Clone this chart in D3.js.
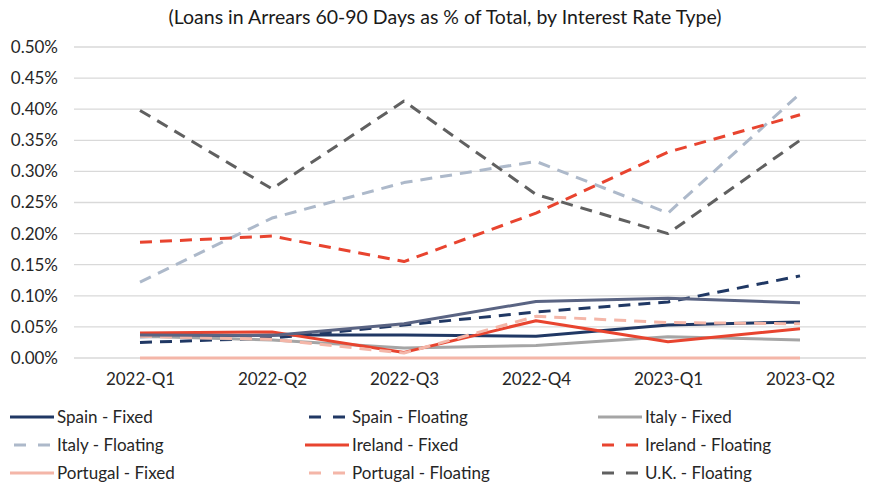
<!DOCTYPE html>
<html>
<head>
<meta charset="utf-8">
<script src="https://cdn.jsdelivr.net/npm/d3@7"></script>
<style>
  html, body { margin: 0; padding: 0; background: #fff; }
  svg { display: block; font-family: Lato, "Liberation Sans", sans-serif; }
</style>
</head>
<body>
<svg id="chart" width="890" height="495"></svg>
<script>
const title = "(Loans in Arrears 60-90 Days as % of Total, by Interest Rate Type)";
const categories = ["2022-Q1", "2022-Q2", "2022-Q3", "2022-Q4", "2023-Q1", "2023-Q2"];
const yTicks = [0, 0.05, 0.10, 0.15, 0.20, 0.25, 0.30, 0.35, 0.40, 0.45, 0.50];

const spainFixed       = [0.034, 0.037, 0.037, 0.035, 0.053, 0.058];
const spainFloating    = [0.025, 0.032, 0.053, 0.074, 0.090, 0.132];
const italyFixed       = [0.035, 0.029, 0.016, 0.020, 0.034, 0.029];
const italyFloating    = [0.122, 0.225, 0.282, 0.316, 0.233, 0.425];
const irelandFixed     = [0.040, 0.042, 0.009, 0.060, 0.026, 0.047];
const irelandFloating  = [0.186, 0.196, 0.155, 0.233, 0.331, 0.391];
const portugalFixed    = [0.000, 0.000, 0.000, 0.000, 0.000, 0.000];
const portugalFloating = [0.035, 0.030, 0.008, 0.067, 0.057, 0.055];
const ukFixed          = [0.037, 0.036, 0.055, 0.091, 0.096, 0.089];
const ukFloating       = [0.398, 0.272, 0.413, 0.263, 0.200, 0.350];

const seriesNames  = ["Spain - Fixed", "Spain - Floating", "Italy - Fixed", "Italy - Floating",
                      "Ireland - Fixed", "Ireland - Floating", "Portugal - Fixed", "Portugal - Floating",
                      "U.K. - Fixed", "U.K. - Floating"];
const seriesValues = [spainFixed, spainFloating, italyFixed, italyFloating, irelandFixed,
                      irelandFloating, portugalFixed, portugalFloating, ukFixed, ukFloating];
const seriesColors = ["#203864", "#203864", "#a5a5a5", "#adb9ca", "#e8442f",
                      "#e8442f", "#f4b6a8", "#f4b6a8", "#5a6483", "#606060"];
const seriesDashed = [false, true, false, true, false, true, false, true, false, true];
const inLegend     = [true, true, true, true, true, true, true, true, false, true];

const svg = d3.select("#chart");

const x = d3.scalePoint().domain(categories).range([140, 800]);
const xBand = d3.scaleBand().domain(categories).range([74, 866]);
const y = d3.scaleLinear().domain([0, 0.5]).range([358, 47]);

// gridlines
svg.append("g").selectAll("line").data(yTicks).join("line")
  .attr("x1", xBand.range()[0]).attr("x2", xBand.range()[1])
  .attr("y1", d => y(d)).attr("y2", d => y(d))
  .attr("stroke", "#d9d9d9").attr("stroke-width", 1.3);

// y axis labels
const yAxis = d3.axisLeft(y).tickValues(yTicks).tickSize(0).tickPadding(0)
  .tickFormat(d => d3.format(".2f")(d) + "%");
const gy = svg.append("g").attr("transform", "translate(58,0)").call(yAxis);
gy.select(".domain").remove();
gy.selectAll("text").attr("font-size", 17).attr("fill", "#262626")
  .attr("font-family", "Lato, sans-serif");

// x axis labels
const xAxis = d3.axisBottom(x).tickSize(0).tickPadding(0);
const gx = svg.append("g").attr("transform", "translate(0,373)").call(xAxis);
gx.select(".domain").remove();
gx.selectAll("text").attr("font-size", 17).attr("fill", "#262626")
  .attr("font-family", "Lato, sans-serif");

// title
svg.append("text").attr("x", 445).attr("y", 24).attr("text-anchor", "middle")
  .attr("font-size", 19.5).attr("fill", "#1a1a1a").text(title);

// lines
const line = d3.line().x((d, i) => x(categories[i])).y(d => y(d));
seriesValues.forEach((vals, i) => {
  svg.append("path").datum(vals)
    .attr("d", line)
    .attr("fill", "none")
    .attr("stroke", seriesColors[i])
    .attr("stroke-width", 3)
    .attr("stroke-linejoin", "round")
    .attr("stroke-dasharray", seriesDashed[i] ? "12,8" : null);
});

// legend
const legendItems = seriesNames.map((n, i) => i).filter(i => inLegend[i]);
const colX = [10, 305, 598];
const rowY = [417, 445, 473];
legendItems.forEach((si, k) => {
  const cx = colX[k % 3], cy = rowY[Math.floor(k / 3)];
  const g = svg.append("g");
  g.append("line").attr("x1", cx).attr("x2", cx + 44).attr("y1", cy).attr("y2", cy)
    .attr("stroke", seriesColors[si]).attr("stroke-width", 3)
    .attr("stroke-dasharray", seriesDashed[si] ? "12,12" : null)
    .attr("stroke-dashoffset", seriesDashed[si] ? -4 : null);
  g.append("text").attr("x", cx + 47).attr("y", cy).attr("dy", "0.35em")
    .attr("font-size", 17).attr("fill", "#262626").text(seriesNames[si]);
});
</script>
</body>
</html>
